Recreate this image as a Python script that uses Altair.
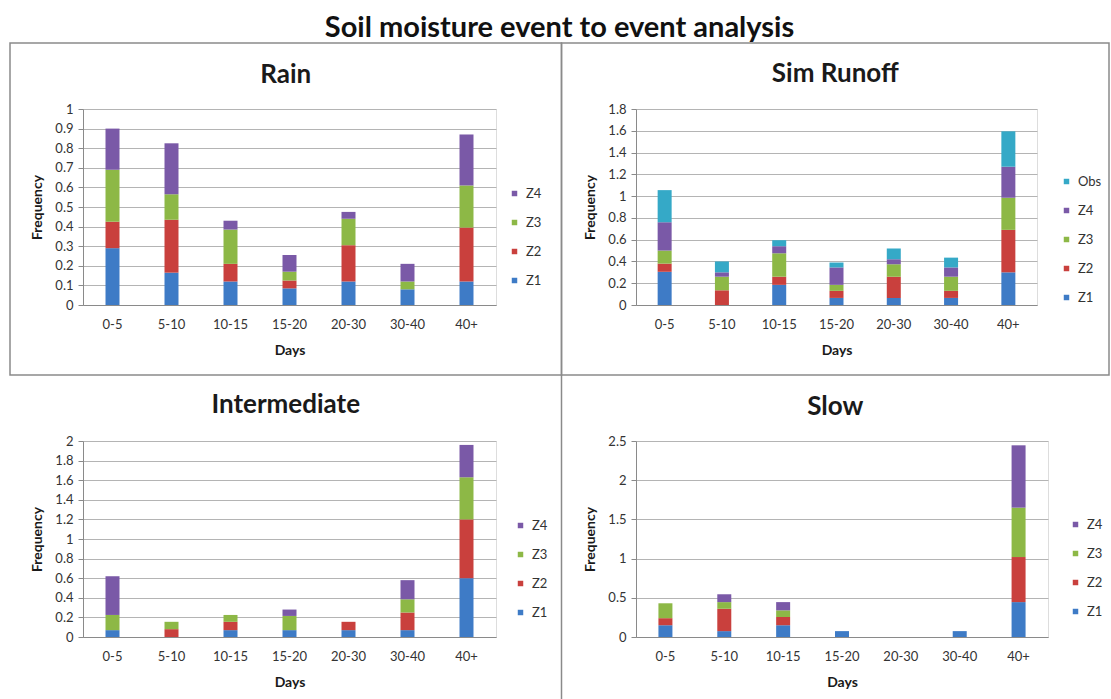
import altair as alt
import pandas as pd

# Day bins shared by all four panels
DAYS = ["0-5", "5-10", "10-15", "15-20", "20-30", "30-40", "40+"]

# Rain
RAIN_Z1 = [0.29, 0.165, 0.12, 0.085, 0.12, 0.08, 0.12]
RAIN_Z2 = [0.135, 0.27, 0.09, 0.04, 0.185, 0.0, 0.275]
RAIN_Z3 = [0.265, 0.13, 0.175, 0.045, 0.135, 0.04, 0.215]
RAIN_Z4 = [0.21, 0.26, 0.045, 0.085, 0.035, 0.09, 0.26]

# Sim Runoff
SIM_Z1 = [0.305, 0.0, 0.185, 0.065, 0.065, 0.065, 0.30]
SIM_Z2 = [0.075, 0.135, 0.075, 0.065, 0.195, 0.065, 0.39]
SIM_Z3 = [0.12, 0.125, 0.215, 0.055, 0.115, 0.13, 0.295]
SIM_Z4 = [0.26, 0.04, 0.065, 0.16, 0.045, 0.085, 0.285]
SIM_OBS = [0.295, 0.10, 0.055, 0.045, 0.10, 0.09, 0.325]

# Intermediate
INT_Z1 = [0.07, 0.0, 0.07, 0.07, 0.07, 0.07, 0.60]
INT_Z2 = [0.0, 0.08, 0.085, 0.0, 0.085, 0.18, 0.60]
INT_Z3 = [0.155, 0.075, 0.07, 0.145, 0.0, 0.135, 0.43]
INT_Z4 = [0.395, 0.0, 0.0, 0.065, 0.0, 0.195, 0.33]

# Slow
SLOW_Z1 = [0.15, 0.075, 0.15, 0.075, 0.0, 0.075, 0.445]
SLOW_Z2 = [0.09, 0.285, 0.105, 0.0, 0.0, 0.0, 0.575]
SLOW_Z3 = [0.19, 0.085, 0.085, 0.0, 0.0, 0.0, 0.63]
SLOW_Z4 = [0.0, 0.10, 0.105, 0.0, 0.0, 0.0, 0.795]

# Y-axis tick values per panel
RAIN_TICKS = [0, 0.1, 0.2, 0.3, 0.4, 0.5, 0.6, 0.7, 0.8, 0.9, 1]
SIM_TICKS = [0, 0.2, 0.4, 0.6, 0.8, 1, 1.2, 1.4, 1.6, 1.8]
INT_TICKS = [0, 0.2, 0.4, 0.6, 0.8, 1, 1.2, 1.4, 1.6, 1.8, 2]
SLOW_TICKS = [0, 0.5, 1, 1.5, 2, 2.5]

ZONE_COLORS = {
    "Z1": "#3E7BC6",
    "Z2": "#C9403D",
    "Z3": "#8DB846",
    "Z4": "#7A59A7",
    "Obs": "#35A9C7",
}

FONT = "Lato"
LINE = "#8a8a8a"
PLOT_H = 196


def panel(title, title_y, series, ticks, width, legend_x, legend_y, box,
          divider=None, framed=True):
    rows = []
    for k, (zone, vals) in enumerate(series):
        for d, v in zip(DAYS, vals):
            if v > 0:
                rows.append({"days": d, "zone": zone, "freq": v, "k": k})
    df = pd.DataFrame(rows)
    zones = [z for z, _ in series][::-1]

    bars = alt.Chart(df).mark_bar(size=14).encode(
        x=alt.X(
            "days:N",
            sort=DAYS,
            scale=alt.Scale(domain=DAYS, paddingInner=0, paddingOuter=0),
            axis=alt.Axis(
                title="Days", labelAngle=0, ticks=False, grid=False,
                domainColor=LINE, labelFontSize=13, labelColor="#333333",
                labelPadding=13, titlePadding=12, titleFontSize=14,
                titleFontWeight="bold", titleColor="#1a1a1a",
                labelFont=FONT, titleFont=FONT,
            ),
        ),
        y=alt.Y(
            "freq:Q",
            stack="zero",
            scale=alt.Scale(domain=[0, ticks[-1]], nice=False),
            axis=alt.Axis(
                title="Frequency", values=ticks, format="~g", grid=True,
                gridColor="#b4b4b4", domainColor=LINE, tickColor=LINE,
                tickSize=5, labelPadding=5, titlePadding=10,
                labelFontSize=13, labelColor="#333333", titleFontSize=14,
                titleFontWeight="bold", titleColor="#1a1a1a",
                labelFont=FONT, titleFont=FONT,
            ),
        ),
        color=alt.Color(
            "zone:N",
            scale=alt.Scale(domain=zones, range=[ZONE_COLORS[z] for z in zones]),
            legend=alt.Legend(
                orient="none", legendX=legend_x, legendY=legend_y, title=None,
                symbolType="square", symbolSize=30, symbolStrokeWidth=0,
                labelFontSize=13, labelFont=FONT, labelColor="#333333",
                rowPadding=15, padding=0, labelOffset=5,
            ),
        ),
        order=alt.Order("k:Q"),
    )

    left, right, top, bottom = box
    frame = alt.Chart(alt.Data(values=[{}])).mark_rect(
        fillOpacity=0,
        stroke=LINE if framed else "#ffffff",
        strokeOpacity=1 if framed else 0,
        strokeWidth=1.5,
    ).encode(
        x=alt.value(left), x2=alt.value(right),
        y=alt.value(top), y2=alt.value(bottom),
    )
    heading = alt.Chart(alt.Data(values=[{"t": title}])).mark_text(
        font=FONT, fontSize=26, fontWeight="bold", color="#1a1a1a",
        align="center", baseline="middle",
    ).encode(
        text="t:N", x=alt.value((left + right) / 2), y=alt.value(title_y),
    )
    layers = [frame, bars, heading]
    if divider is not None:
        layers.append(
            alt.Chart(alt.Data(values=[{}])).mark_rule(color=LINE, strokeWidth=1.5).encode(
                x=alt.value(divider), y=alt.value(top), y2=alt.value(bottom)
            )
        )

    return alt.layer(*layers).properties(width=width, height=PLOT_H)


rain = panel(
    "Rain", -34,
    [("Z1", RAIN_Z1), ("Z2", RAIN_Z2), ("Z3", RAIN_Z3), ("Z4", RAIN_Z4)],
    RAIN_TICKS, 413, 425, 78, (-73, 478.5, -66, 266),
)
sim = panel(
    "Sim Runoff", -35,
    [("Z1", SIM_Z1), ("Z2", SIM_Z2), ("Z3", SIM_Z3), ("Z4", SIM_Z4), ("Obs", SIM_OBS)],
    SIM_TICKS, 401, 424, 66, (-74.5, 473, -66, 266),
)
inter = panel(
    "Intermediate", -36,
    [("Z1", INT_Z1), ("Z2", INT_Z2), ("Z3", INT_Z3), ("Z4", INT_Z4)],
    INT_TICKS, 413, 431, 78, (-73, 478.5, -66, 258), divider=478.5, framed=False,
)
slow = panel(
    "Slow", -34,
    [("Z1", SLOW_Z1), ("Z2", SLOW_Z2), ("Z3", SLOW_Z3), ("Z4", SLOW_Z4)],
    SLOW_TICKS, 412, 433, 77, (-74.5, 473, -66, 258), framed=False,
)

chart = alt.concat(
    rain, sim, inter, slow,
    columns=2,
    spacing={"row": 136, "column": 140},
    bounds="flush",
    title=alt.Title(
        "Soil moisture event to event analysis", font=FONT, fontSize=29,
        fontWeight="bold", color="#111111", anchor="middle",
        baseline="alphabetic", offset=-24,
    ),
).resolve_scale(
    color="independent"
).resolve_legend(
    color="independent"
).properties(
    padding={"left": 8, "top": 13, "right": 0, "bottom": 0},
    background="#ffffff",
).configure_view(
    stroke=None
).configure(
    font=FONT
)

chart.save("out.html", embed_options={"renderer": "svg", "actions": False})
